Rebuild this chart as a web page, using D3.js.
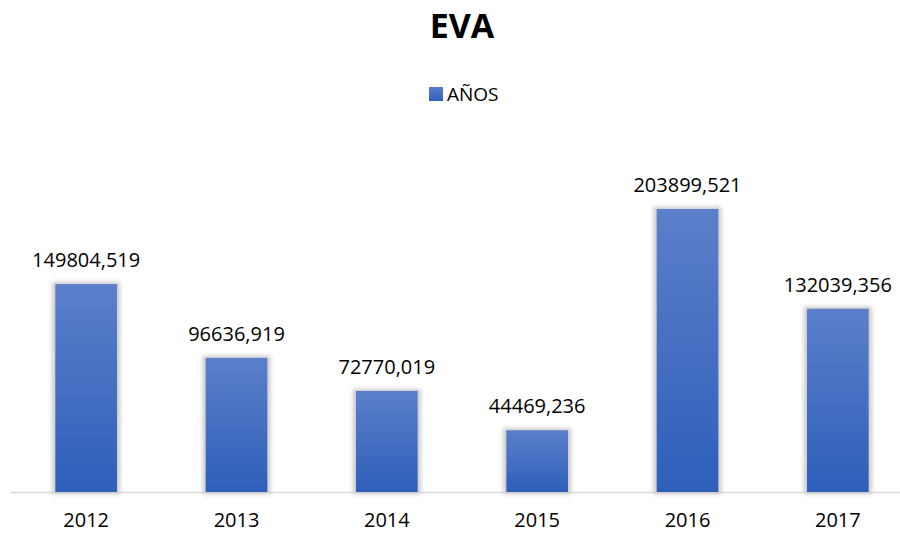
<!DOCTYPE html>
<html>
<head>
<meta charset="utf-8">
<script src="https://cdn.jsdelivr.net/npm/d3@7"></script>
<style>
  body { margin: 0; background: #fff; }
  text { font-family: "Open Sans", "Liberation Sans", sans-serif; fill: #000; }
</style>
</head>
<body>
<div id="chart"></div>
<script>
const years = ["2012", "2013", "2014", "2015", "2016", "2017"];
const values = [149804.519, 96636.919, 72770.019, 44469.236, 203899.521, 132039.356];
const seriesName = "AÑOS";
const title = "EVA";

const width = 900;
const height = 533;
const baseline = 492;

const svg = d3.select("#chart")
  .append("svg")
  .attr("width", width)
  .attr("height", height);

const defs = svg.append("defs");

const grad = defs.append("linearGradient")
  .attr("id", "barGrad")
  .attr("x1", 0).attr("y1", 0)
  .attr("x2", 0).attr("y2", 1);
grad.append("stop").attr("offset", "0%").attr("stop-color", "#5b7fca");
grad.append("stop").attr("offset", "100%").attr("stop-color", "#2e5fba");

defs.append("filter")
  .attr("id", "shadow")
  .attr("x", "-20%").attr("y", "-20%")
  .attr("width", "140%").attr("height", "140%")
  .append("feGaussianBlur")
  .attr("stdDeviation", 2);

const x = d3.scaleBand()
  .domain(years)
  .range([11, 913])
  .paddingInner(0.59)
  .paddingOuter(0.295);

const y = d3.scaleLinear()
  .domain([0, 250000])
  .range([baseline, 145]);

const fmt = d3.formatLocale({ decimal: ",", thousands: "", grouping: [3], currency: ["", ""] }).format(".3f");

// title
svg.append("text")
  .attr("x", 462)
  .attr("y", 38)
  .attr("text-anchor", "middle")
  .style("font-size", "34px")
  .style("font-weight", "bold")
  .text(title);

// legend
svg.append("rect")
  .attr("x", 429)
  .attr("y", 87)
  .attr("width", 14)
  .attr("height", 14)
  .attr("fill", "url(#barGrad)");

svg.append("text")
  .attr("x", 447)
  .attr("y", 101)
  .style("font-size", "19px")
  .text(seriesName);

// axis line
svg.append("line")
  .attr("x1", 11)
  .attr("x2", 900)
  .attr("y1", baseline + 0.5)
  .attr("y2", baseline + 0.5)
  .attr("stroke", "#d9d9d9")
  .attr("stroke-width", 1.5);

const data = years.map((yr, i) => ({ year: yr, value: values[i] }));

// bar shadows
svg.selectAll("rect.shadow")
  .data(data)
  .enter()
  .append("rect")
  .attr("class", "shadow")
  .attr("x", d => x(d.year) - 3)
  .attr("y", d => y(d.value) - 2)
  .attr("width", x.bandwidth() + 6)
  .attr("height", d => baseline - y(d.value) + 4)
  .attr("fill", "#c8c8c8")
  .attr("filter", "url(#shadow)");

// bars
svg.selectAll("rect.bar")
  .data(data)
  .enter()
  .append("rect")
  .attr("class", "bar")
  .attr("x", d => x(d.year))
  .attr("y", d => y(d.value))
  .attr("width", x.bandwidth())
  .attr("height", d => baseline - y(d.value))
  .attr("fill", "url(#barGrad)");

// value labels
svg.selectAll("text.value")
  .data(data)
  .enter()
  .append("text")
  .attr("class", "value")
  .attr("x", d => x(d.year) + x.bandwidth() / 2)
  .attr("y", d => y(d.value) - 17)
  .attr("text-anchor", "middle")
  .style("font-size", "20px")
  .text(d => fmt(d.value));

// category labels
svg.selectAll("text.year")
  .data(data)
  .enter()
  .append("text")
  .attr("class", "year")
  .attr("x", d => x(d.year) + x.bandwidth() / 2)
  .attr("y", 527)
  .attr("text-anchor", "middle")
  .style("font-size", "20px")
  .text(d => d.year);
</script>
</body>
</html>
